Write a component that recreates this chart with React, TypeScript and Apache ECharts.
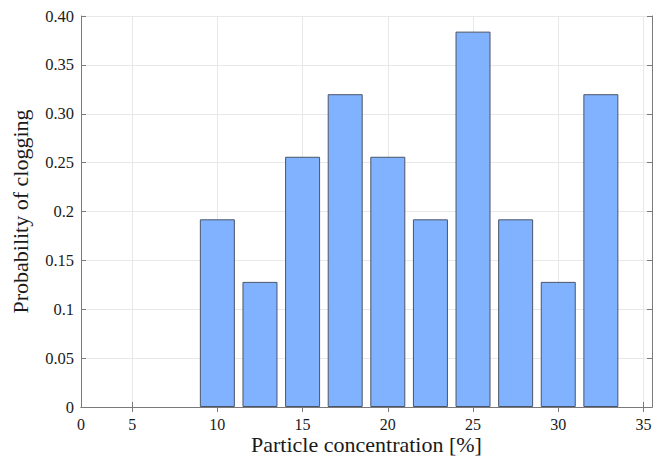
import React, { useEffect, useRef } from "react";
import * as echarts from "echarts";

const concentrations = [10, 12.5, 15, 17.5, 20, 22.5, 25, 27.5, 30, 32.5];
const probabilities = [0.192, 0.128, 0.256, 0.32, 0.256, 0.192, 0.384, 0.192, 0.128, 0.32];
const xTickValues = [2, 5, 10, 15, 20, 25, 30, 35];
const xTickLabels = ["0", "5", "10", "15", "20", "25", "30", "35"];
const yTickLabels = ["0", "0.05", "0.1", "0.15", "0.2", "0.25", "0.30", "0.35", "0.40"];

const FONT = "'Liberation Serif', 'DejaVu Serif', serif";
const AXIS_COLOR = "#7a7a7a";

export default function App() {
  const ref = useRef<HTMLDivElement>(null);
  useEffect(() => {
    if (!ref.current) return;
    const chart = echarts.init(ref.current, null, { renderer: "svg" });
    const xFmt = (v: number) => {
      const i = xTickValues.findIndex((t) => Math.abs(t - v) < 1e-6);
      return i >= 0 ? xTickLabels[i] : "";
    };
    const yFmt = (v: number) => {
      const i = Math.round(v / 0.05);
      return yTickLabels[i] ?? "";
    };
    const axisLine = { show: true, lineStyle: { color: AXIS_COLOR, width: 1 } };
    chart.setOption({
      animation: false,
      backgroundColor: "#ffffff",
      grid: { left: 81, right: 11, top: 16, bottom: 50, containLabel: false, outerBoundsMode: "none" },
      xAxis: [
        {
          type: "value",
          position: "bottom",
          min: 2,
          max: 35.5,
          name: "Particle concentration [%]",
          nameLocation: "middle",
          nameGap: 26,
          nameMoveOverlap: false,
          nameTextStyle: { fontFamily: FONT, fontSize: 22, color: "#1a1a1a" },
          axisLine,
          axisTick: { show: true, inside: true, length: 5, customValues: xTickValues, lineStyle: { color: AXIS_COLOR } },
          axisLabel: { customValues: xTickValues, formatter: xFmt, fontFamily: FONT, fontSize: 16, color: "#1a1a1a", margin: 9 },
          splitLine: { show: true, customValues: xTickValues.slice(1), lineStyle: { color: "#e8e8e8", width: 1 } },
        },
        {
          type: "value",
          position: "top",
          min: 2,
          max: 35.5,
          axisLine,
          axisTick: { show: true, inside: true, length: 5, customValues: xTickValues.slice(1), lineStyle: { color: AXIS_COLOR } },
          axisLabel: { show: false },
          splitLine: { show: false },
        },
      ],
      yAxis: [
        {
          type: "value",
          position: "left",
          min: 0,
          max: 0.4,
          interval: 0.05,
          name: "Probability of clogging",
          nameLocation: "middle",
          nameGap: 50,
          nameMoveOverlap: false,
          nameTextStyle: { fontFamily: FONT, fontSize: 22, color: "#1a1a1a" },
          axisLine,
          axisTick: { show: true, inside: true, length: 5, lineStyle: { color: AXIS_COLOR } },
          axisLabel: { formatter: yFmt, fontFamily: FONT, fontSize: 16.5, color: "#1a1a1a", margin: 7 },
          splitLine: { show: true, lineStyle: { color: "#e8e8e8", width: 1 } },
        },
        {
          type: "value",
          position: "right",
          min: 0,
          max: 0.4,
          interval: 0.05,
          axisLine,
          axisTick: { show: true, inside: true, length: 5, lineStyle: { color: AXIS_COLOR } },
          axisLabel: { show: false },
          splitLine: { show: false },
        },
      ],
      series: [
        {
          type: "bar",
          xAxisIndex: 0,
          yAxisIndex: 0,
          barWidth: 35,
          data: concentrations.map((c, i) => [c, probabilities[i]]),
          itemStyle: { color: "#80b2ff", borderColor: "#4a5468", borderWidth: 1 },
        },
      ],
    });
    return () => chart.dispose();
  }, []);
  return <div ref={ref} style={{ width: 663, height: 457, position: "absolute", left: 0, top: 0 }} />;
}
